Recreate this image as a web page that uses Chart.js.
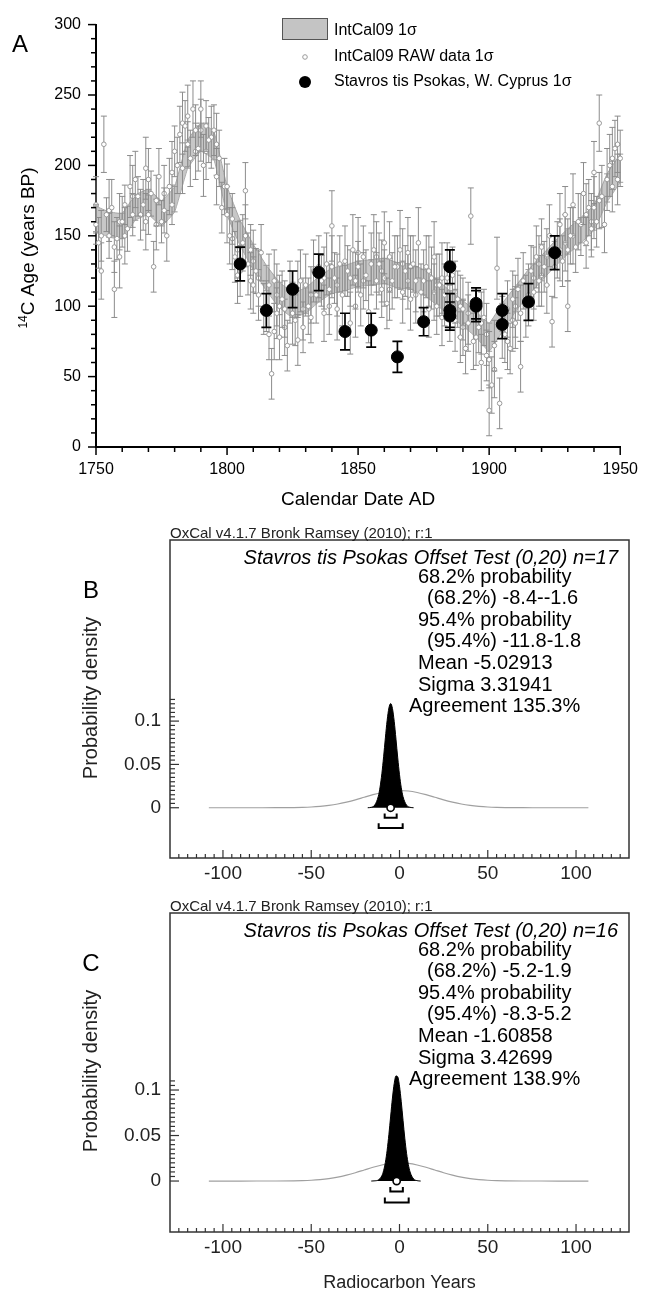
<!DOCTYPE html>
<html>
<head>
<meta charset="utf-8">
<script src="https://cdn.jsdelivr.net/npm/chart.js@4.4.0/dist/chart.umd.min.js"></script>
<style>
  html, body { margin: 0; padding: 0; background: #fff; }
  body { width: 651px; height: 1293px; position: relative; overflow: hidden; }
  canvas { position: absolute; left: 0; }
</style>
</head>
<body>
<canvas id="chartA" width="651" height="515" style="top:0px"></canvas>
<canvas id="chartB" width="651" height="375" style="top:515px"></canvas>
<canvas id="chartC" width="651" height="403" style="top:890px"></canvas>
<script>
// ---- panel A : IntCal09 curve, raw data and Stavros tis Psokas dates ----
var intcalYears = [1750,1755,1760,1765,1770,1775,1780,1785,1790,1795,1800,1805,1810,1815,1820,1825,1830,1835,1840,1845,1850,1855,1860,1865,1870,1875,1880,1885,1890,1895,1900,1905,1910,1915,1920,1925,1930,1935,1940,1945,1950];
var intcalAges  = [162,158,157,170,174,166,176,208,220,214,175,152,135,120,108,101,104,112,118,120,123,124,125,122,121,117,110,102,95,87,78,92,105,117,127,137,146,154,163,184,198];
var intcalSigma = [9,9,9,9,9,9,9,10,10,10,10,9,9,9,9,9,9,9,9,9,9,9,9,9,9,9,9,9,9,9,10,10,9,9,9,9,9,9,9,10,10];

var rawYears = [
  1750,1751,1752,1753,1754,1755,1756,1757,1758,1759,
  1760,1761,1762,1763,1764,1765,1766,1768,1769,
  1770,1771,1772,1773,1774,1775,1776,1777,1778,1779,
  1780,1782,1783,1784,1785,1786,1787,1788,1789,
  1790,1791,1792,1793,1795,1796,1797,1798,
  1800,1801,1802,1803,1804,1806,1807,1808,1809,
  1810,1811,1812,1813,1815,1816,1817,1818,1819,
  1820,1821,1822,1823,1824,1826,1827,1828,1829,
  1831,1832,1833,1834,1836,1837,1838,1839,
  1840,1841,1842,1843,1844,1846,1847,1848,1849,
  1850,1851,1852,1853,1854,1856,1857,1858,1859,
  1860,1861,1862,1863,1864,1866,1867,1868,1869,
  1870,1871,1872,1873,1874,1876,1877,1878,1879,
  1880,1881,1882,1883,1884,1886,1887,1888,1889,
  1890,1891,1892,1893,1894,1896,1897,1898,1899,
  1900,1901,1902,1903,1904,1906,1907,1908,1909,
  1910,1911,1912,1913,1914,1916,1917,1918,1919,
  1920,1921,1922,1923,1924,1926,1927,1928,1929,
  1930,1931,1932,1933,1934,1936,1937,1938,1939,
  1940,1941,1942,1943,1944,1946,1947,1948,1949,1950];
var rawAges = [
  158,145,125,215,165,150,170,112,148,135,
  160,172,155,185,165,190,178,172,198,
  165,180,128,175,192,160,168,150,185,172,
  210,222,198,228,215,205,240,225,212,
  240,200,228,218,225,192,205,170,
  185,150,162,135,122,145,182,130,140,
  115,125,108,138,100,80,52,118,95,
  78,105,98,72,110,90,76,118,85,
  100,92,125,108,118,95,130,112,
  157,120,98,130,108,125,88,140,118,
  128,108,135,122,96,140,118,130,112,
  145,102,135,118,128,140,110,125,138,
  105,130,118,145,110,128,98,120,135,
  100,115,92,108,120,122,90,105,78,
  98,70,88,164,75,85,60,92,65,
  26,44,72,127,31,80,98,70,105,
  88,112,57,118,100,125,110,135,118,
  142,128,115,150,89,140,158,132,165,
  100,150,172,142,160,180,145,170,155,
  195,160,230,178,158,200,185,212,190,205];
var rawErrs = [
  14,18,20,20,12,16,20,20,15,22,
  18,14,16,22,15,20,14,18,22,
  14,16,18,18,20,15,16,18,20,14,
  18,20,18,18,16,20,20,18,16,
  20,22,18,16,18,20,20,18,
  16,20,18,18,20,20,20,22,18,
  20,16,18,20,18,18,18,22,18,
  16,20,20,18,22,18,18,22,18,
  20,18,22,20,18,20,22,18,
  25,18,22,20,22,18,22,25,20,
  18,22,22,18,22,25,20,22,20,
  22,18,25,20,22,28,22,18,25,
  22,20,22,25,20,22,20,22,25,
  20,22,20,22,25,20,22,20,18,
  22,18,20,20,20,18,20,20,18,
  18,20,18,22,18,20,20,18,20,
  18,22,18,20,22,18,20,22,18,
  20,18,20,22,18,20,22,18,20,
  18,20,22,18,20,22,18,20,20,
  22,18,20,22,20,22,18,20,18,20];

// second batch of raw measurements (other series in the same years)
var rawYears2 = [
  1750,1752,1755,1757,1759,1761,1764,1767,1769,1770,1773,1776,1779,
  1781,1783,1785,1788,1790,1792,1794,1796,1799,
  1800,1802,1804,1805,1807,1809,1810,1812,1814,1816,1818,1819,
  1820,1822,1825,1827,1829,1830,1832,1835,1837,1839,
  1840,1842,1845,1847,1849,1850,1852,1855,1857,1859,
  1860,1862,1865,1867,1869,1870,1872,1875,1877,1879,
  1880,1882,1885,1887,1889,1890,1892,1895,1897,1899,
  1900,1902,1905,1907,1909,1910,1912,1915,1917,1919,
  1920,1922,1925,1927,1929,1930,1932,1935,1937,1939,
  1940,1942,1945,1947,1949];
var rawAges2 = [
  172,150,168,142,160,150,178,165,160,190,158,180,195,
  200,230,235,210,225,210,220,215,185,
  165,148,140,125,150,118,132,120,98,115,82,108,
  100,85,95,112,98,115,108,128,120,100,
  128,115,132,120,100,138,118,130,135,125,
  120,112,128,130,118,128,108,118,125,110,
  115,120,95,110,100,85,95,78,88,80,
  62,55,85,75,90,100,95,108,120,130,
  122,135,128,140,145,140,150,158,165,160,
  170,175,190,205,215];
var rawErrs2 = [
  20,18,22,18,20,20,22,18,20,22,18,20,22,
  20,22,22,20,22,20,22,22,20,
  20,22,20,18,22,20,22,20,18,22,20,22,
  22,20,22,20,22,22,20,22,22,20,
  22,22,25,20,22,25,20,22,25,22,
  20,22,22,25,20,22,20,22,25,20,
  22,25,20,22,22,20,22,20,22,22,
  20,20,22,20,22,22,20,22,22,20,
  22,20,22,22,20,22,20,22,22,20,
  22,20,22,22,20];

var stavYears = [1805,1815,1825,1835,1845,1855,1865,1875,1885,1885,1885,1895,1895,1905,1905,1915,1925];
var stavAges  = [130,97,112,124,82,83,64,89,128,97,93,102,100,97,87,103,138];
var stavErrs  = [12,12,13,13,13,12,11,10,12,12,10,11,11,12,10,13,12];

var yearTicks = [1750,1800,1850,1900,1950];
var ageTicks  = [0,50,100,150,200,250,300];

// ---- panels B and C : OxCal offset test ----
var radTicks  = [-100,-50,0,50,100];
var probTicks = [0,0.05,0.1];

var priorX = [-108,-90,-80,-70,-60,-55,-50,-45,-40,-35,-30,-25,-20,-15,-10,-5,0,5,10,15,20,25,30,35,40,45,50,55,60,70,80,90,107];
var priorY = [0,0,0.00001,0.00004,0.00022,0.00045,0.00088,0.0016,0.0027,0.0043,0.0065,0.0091,0.0121,0.0151,0.0176,0.0193,0.0199,0.0193,0.0176,0.0151,0.0121,0.0091,0.0065,0.0043,0.0027,0.0016,0.00088,0.00045,0.00022,0.00004,0.00001,0,0];

var postXB = [-18,-16,-14,-12,-11,-10,-9,-8,-7,-6,-5,-4,-3,-2,-1,0,1,2,4,6,8];
var postYB = [0,0.0005,0.0031,0.0132,0.0239,0.0392,0.0588,0.0806,0.1008,0.1151,0.1202,0.1146,0.0997,0.0792,0.0575,0.0381,0.0231,0.0128,0.0030,0.0005,0];
var meanB = -5.02913;
var range68B = [-8.4, -1.6];
var range95B = [-11.8, 1.8];
var titleB = 'Stavros tis Psokas Offset Test (0,20) n=17';
var linesB = ['68.2% probability', '(68.2%) -8.4--1.6', '95.4% probability', '(95.4%) -11.8-1.8', 'Mean -5.02913', 'Sigma 3.31941', 'Agreement 135.3%'];

var postXC = [-16,-14,-12,-10,-9,-8,-7,-6,-5,-4,-3,-2,-1,0,1,2,3,4,5,6,8,10,12];
var postYC = [0,0.0002,0.0012,0.0058,0.0114,0.0205,0.0338,0.0513,0.0714,0.0912,0.1071,0.1155,0.1145,0.1042,0.0871,0.0668,0.0471,0.0305,0.0182,0.0099,0.0023,0.0004,0];
var meanC = -1.60858;
var range68C = [-5.2, 1.9];
var range95C = [-8.3, 5.2];
var titleC = 'Stavros tis Psokas Offset Test (0,20) n=16';
var linesC = ['68.2% probability', '(68.2%) -5.2-1.9', '95.4% probability', '(95.4%) -8.3-5.2', 'Mean -1.60858', 'Sigma 3.42699', 'Agreement 138.9%'];
var lineX = [418, 427, 418, 427, 418, 418, 409];

var FONT = "'Liberation Sans', Arial, Helvetica, sans-serif";

function pts(xs, ys) {
  return xs.map(function (x, i) { return { x: x, y: ys[i] }; });
}
function line(ctx, x1, y1, x2, y2) {
  ctx.beginPath(); ctx.moveTo(x1, y1); ctx.lineTo(x2, y2); ctx.stroke();
}

// error bars, drawn just before the dataset's own markers
var errorBars = {
  id: 'errorBars',
  beforeDatasetDraw: function (chart, args) {
    var ds = chart.data.datasets[args.index];
    if (!ds.errs) return;
    var xs = chart.scales.x, ys = chart.scales.y, ctx = chart.ctx;
    ctx.save();
    ctx.strokeStyle = ds.errColor;
    ctx.lineWidth = ds.errWidth;
    ds.data.forEach(function (p, i) {
      var px = xs.getPixelForValue(p.x);
      var y1 = ys.getPixelForValue(p.y + ds.errs[i]);
      var y2 = ys.getPixelForValue(p.y - ds.errs[i]);
      ctx.beginPath();
      ctx.moveTo(px, y1); ctx.lineTo(px, y2);
      ctx.moveTo(px - ds.cap, y1); ctx.lineTo(px + ds.cap, y1);
      ctx.moveTo(px - ds.cap, y2); ctx.lineTo(px + ds.cap, y2);
      ctx.stroke();
    });
    ctx.restore();
  }
};

var panelAExtras = {
  id: 'panelAExtras',
  afterDraw: function (chart) {
    var ctx = chart.ctx, a = chart.chartArea, xs = chart.scales.x, ys = chart.scales.y;
    ctx.save();
    ctx.strokeStyle = '#000';
    ctx.lineWidth = 1.5;
    for (var yr = 1750; yr <= 1950; yr += 10) {
      var px = xs.getPixelForValue(yr);
      line(ctx, px, a.bottom, px, a.bottom + (yr % 50 === 0 ? 8 : 5));
    }
    for (var v = 0; v <= 300; v += 10) {
      var py = ys.getPixelForValue(v);
      line(ctx, a.left - (v % 50 === 0 ? 8 : 5), py, a.left, py);
    }

    ctx.fillStyle = '#000';
    ctx.textAlign = 'center';
    ctx.textBaseline = 'middle';
    ctx.font = '24px ' + FONT;
    ctx.fillText('A', 20, 45);
    ctx.font = '19px ' + FONT;
    ctx.fillText('Calendar Date AD', (a.left + a.right) / 2, 500);

    // y title with superscript 14
    ctx.save();
    ctx.translate(34, 248);
    ctx.rotate(-Math.PI / 2);
    ctx.textAlign = 'left';
    ctx.textBaseline = 'alphabetic';
    ctx.font = '12px ' + FONT;
    var w1 = ctx.measureText('14').width;
    ctx.font = '19px ' + FONT;
    var w2 = ctx.measureText('C Age (years BP)').width;
    var x0 = -(w1 + w2) / 2;
    ctx.font = '12px ' + FONT;
    ctx.fillText('14', x0, -7);
    ctx.font = '19px ' + FONT;
    ctx.fillText('C Age (years BP)', x0 + w1, 0);
    ctx.restore();

    // legend
    ctx.fillStyle = '#c4c4c4';
    ctx.fillRect(282, 18, 46, 22);
    ctx.strokeStyle = '#555';
    ctx.lineWidth = 1;
    ctx.strokeRect(282.5, 18.5, 45, 21);
    ctx.fillStyle = '#000';
    ctx.font = '16px ' + FONT;
    ctx.textAlign = 'left';
    ctx.fillText('IntCal09 1σ', 334, 31);
    ctx.fillText('IntCal09 RAW data 1σ', 334, 57);
    ctx.fillText('Stavros tis Psokas, W. Cyprus 1σ', 334, 82);
    ctx.beginPath();
    ctx.arc(305, 57, 2.3, 0, 2 * Math.PI);
    ctx.fillStyle = '#fff'; ctx.fill();
    ctx.strokeStyle = '#9a9a9a'; ctx.stroke();
    ctx.beginPath();
    ctx.arc(305, 82, 6, 0, 2 * Math.PI);
    ctx.fillStyle = '#000'; ctx.fill();
    ctx.restore();
  }
};

var upper = intcalAges.map(function (a, i) { return a + intcalSigma[i]; });
var lower = intcalAges.map(function (a, i) { return a - intcalSigma[i]; });

var rawStyle = { showLine: false, errColor: '#8c8c8c', errWidth: 1, cap: 3, pointRadius: 2.3,
  pointBackgroundColor: '#fff', pointBorderColor: '#9a9a9a', pointBorderWidth: 1, clip: false, order: 1 };

new Chart(document.getElementById('chartA'), {
  type: 'line',
  data: {
    datasets: [
      { label: 'Stavros tis Psokas, W. Cyprus 1σ', data: pts(stavYears, stavAges), showLine: false,
        errs: stavErrs, errColor: '#000', errWidth: 1.7, cap: 5,
        pointRadius: 6, pointBackgroundColor: '#000', pointBorderColor: '#000', clip: false, order: 0 },
      Object.assign({ label: 'IntCal09 RAW data 1σ', data: pts(rawYears, rawAges), errs: rawErrs }, rawStyle),
      Object.assign({ label: 'IntCal09 RAW data 1σ (2)', data: pts(rawYears2, rawAges2), errs: rawErrs2 }, rawStyle),
      { label: 'IntCal09 points', data: pts(intcalYears, intcalAges), showLine: false, pointRadius: 0,
        errs: intcalSigma, errColor: '#9c9c9c', errWidth: 1, cap: 3, order: 2 },
      { label: 'IntCal09 1σ', data: pts(intcalYears, upper), borderColor: '#a6a6a6', borderWidth: 1,
        pointRadius: 0, fill: '+1', backgroundColor: 'rgba(180,180,180,0.75)', tension: 0.1, order: 3 },
      { label: 'lower', data: pts(intcalYears, lower), borderColor: '#a6a6a6', borderWidth: 1,
        pointRadius: 0, fill: false, tension: 0.1, order: 4 }
    ]
  },
  options: {
    responsive: false,
    animation: false,
    events: [],
    layout: { padding: { left: 0, right: 18, top: 17, bottom: 0 } },
    plugins: { legend: { display: false }, tooltip: { enabled: false } },
    scales: {
      x: {
        type: 'linear', min: 1750, max: 1950,
        afterBuildTicks: function (s) { s.ticks = yearTicks.map(function (v) { return { value: v }; }); },
        afterFit: function (s) { s.height = 68; },
        grid: { display: false, drawTicks: false },
        border: { display: true, color: '#000', width: 2 },
        ticks: { padding: 13, color: '#000', font: { family: FONT, size: 16 }, maxRotation: 0, autoSkip: false,
                 callback: function (v) { return String(v); } }
      },
      y: {
        type: 'linear', min: 0, max: 300,
        afterBuildTicks: function (s) { s.ticks = ageTicks.map(function (v) { return { value: v }; }); },
        afterFit: function (s) { s.width = 96; },
        grid: { display: false, drawTicks: false },
        border: { display: true, color: '#000', width: 2 },
        ticks: { padding: 15, color: '#000', font: { family: FONT, size: 16 }, autoSkip: false,
                 callback: function (v) { return String(v); } }
      }
    }
  },
  plugins: [errorBars, panelAExtras]
});

// ---- OxCal panels ----
function oxcalExtras(cfg) {
  return {
    id: 'oxcalExtras',
    afterDraw: function (chart) {
      var ctx = chart.ctx, a = chart.chartArea, xs = chart.scales.x, ys = chart.scales.y;
      ctx.save();
      ctx.strokeStyle = '#333';
      ctx.lineWidth = 1.5;
      ctx.strokeRect(a.left, a.top, a.right - a.left, a.bottom - a.top);

      ctx.lineWidth = 1.2;
      for (var v = -125; v <= 125; v += 5) {
        var px = xs.getPixelForValue(v);
        line(ctx, px, a.bottom, px, a.bottom - (v % 50 === 0 ? 8 : 4));
      }
      for (var i = 0; i * 0.005 <= cfg.tickTop + 1e-9; i++) {
        var py = ys.getPixelForValue(i * 0.005);
        line(ctx, a.left, py, a.left + (i % 10 === 0 ? 9 : 5), py);
      }

      // 68.2% and 95.4% range brackets
      ctx.strokeStyle = '#000';
      ctx.lineWidth = 2;
      function bracket(r, yTop, yBot) {
        var x1 = xs.getPixelForValue(r[0]), x2 = xs.getPixelForValue(r[1]);
        var y1 = ys.getPixelForValue(yTop), y2 = ys.getPixelForValue(yBot);
        ctx.beginPath();
        ctx.moveTo(x1, y1); ctx.lineTo(x1, y2); ctx.lineTo(x2, y2); ctx.lineTo(x2, y1);
        ctx.stroke();
      }
      bracket(cfg.r68, -0.0065, -0.0115);
      bracket(cfg.r95, -0.018, -0.0235);

      // mean marker
      ctx.beginPath();
      ctx.arc(xs.getPixelForValue(cfg.mean), ys.getPixelForValue(0), 3.6, 0, 2 * Math.PI);
      ctx.fillStyle = '#fff'; ctx.fill();
      ctx.lineWidth = 1.6; ctx.strokeStyle = '#000'; ctx.stroke();

      ctx.fillStyle = '#222';
      ctx.textAlign = 'left';
      ctx.textBaseline = 'alphabetic';
      ctx.font = '15px ' + FONT;
      ctx.fillText('OxCal v4.1.7 Bronk Ramsey (2010); r:1', a.left, a.top - 2);

      ctx.fillStyle = '#000';
      ctx.font = 'italic 20px ' + FONT;
      ctx.textAlign = 'right';
      ctx.fillText(cfg.title, 618, a.top + 24);
      ctx.textAlign = 'left';
      ctx.font = '20px ' + FONT;
      cfg.lines.forEach(function (t, k) {
        ctx.fillText(t, lineX[k], a.top + 42.5 + 21.6 * k);
      });

      ctx.textAlign = 'center';
      ctx.textBaseline = 'middle';
      ctx.font = '24px ' + FONT;
      ctx.fillText(cfg.letter, 91, a.top + 51);

      ctx.save();
      ctx.translate(97, a.top + 158);
      ctx.rotate(-Math.PI / 2);
      ctx.textBaseline = 'alphabetic';
      ctx.font = '20px ' + FONT;
      ctx.fillStyle = '#222';
      ctx.fillText('Probability density', 0, 0);
      ctx.restore();

      if (cfg.xTitle) {
        ctx.font = '18px ' + FONT;
        ctx.fillStyle = '#222';
        ctx.fillText(cfg.xTitle, (a.left + a.right) / 2, a.bottom + 51);
      }
      ctx.restore();
    }
  };
}

function oxcalChart(id, postX, postY, yMin, yMax, padTop, xHeight, cfg) {
  return new Chart(document.getElementById(id), {
    type: 'line',
    data: {
      datasets: [
        { label: 'posterior', data: pts(postX, postY), borderColor: '#000', borderWidth: 1,
          backgroundColor: '#000', fill: 'origin', pointRadius: 0, cubicInterpolationMode: 'monotone', order: 1 },
        { label: 'prior', data: pts(priorX, priorY), borderColor: '#a0a0a0', borderWidth: 1.2,
          fill: false, pointRadius: 0, cubicInterpolationMode: 'monotone', order: 2 }
      ]
    },
    options: {
      responsive: false,
      animation: false,
      events: [],
      layout: { padding: { left: 0, right: 22, top: padTop, bottom: 0 } },
      plugins: { legend: { display: false }, tooltip: { enabled: false } },
      scales: {
        x: {
          type: 'linear', min: -130, max: 130,
          afterBuildTicks: function (s) { s.ticks = radTicks.map(function (v) { return { value: v }; }); },
          afterFit: function (s) { s.height = xHeight; },
          grid: { display: false, drawTicks: false },
          border: { display: false },
          ticks: { padding: 4, color: '#222', font: { family: FONT, size: 19 }, maxRotation: 0, autoSkip: false,
                   callback: function (v) { return String(v); } }
        },
        y: {
          type: 'linear', min: yMin, max: yMax,
          afterBuildTicks: function (s) { s.ticks = probTicks.map(function (v) { return { value: v }; }); },
          afterFit: function (s) { s.width = 170; },
          grid: { display: false, drawTicks: false },
          border: { display: false },
          ticks: { padding: 9, color: '#222', font: { family: FONT, size: 19 }, autoSkip: false,
                   callback: function (v) { return String(v); } }
        }
      }
    },
    plugins: [oxcalExtras(cfg)]
  });
}

oxcalChart('chartB', postXB, postYB, -0.058, 0.309, 25, 32,
  { letter: 'B', title: titleB, lines: linesB, mean: meanB, r68: range68B, r95: range95B, tickTop: 0.125 });
oxcalChart('chartC', postXC, postYC, -0.056, 0.2945, 23, 61,
  { letter: 'C', title: titleC, lines: linesC, mean: meanC, r68: range68C, r95: range95C, tickTop: 0.11, xTitle: 'Radiocarbon Years' });
</script>
</body>
</html>
